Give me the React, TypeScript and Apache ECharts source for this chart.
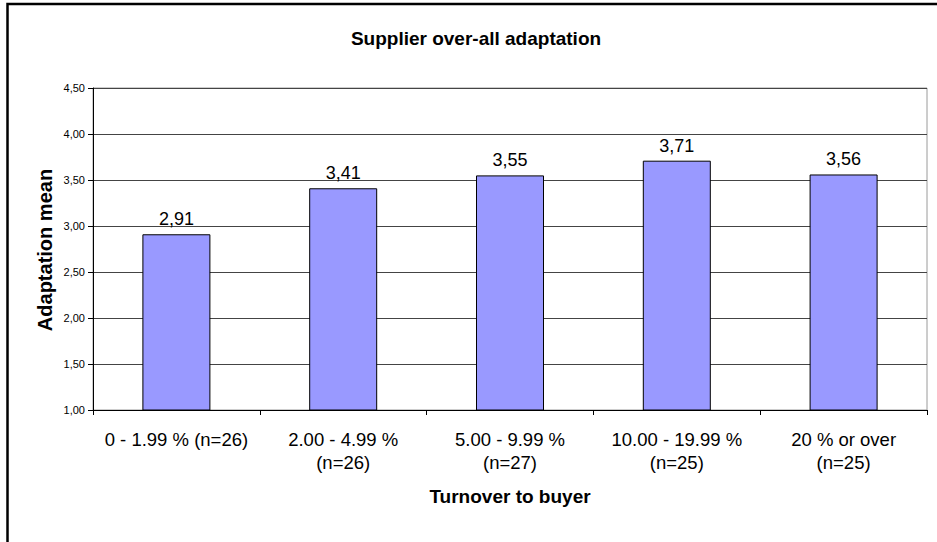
import React, { useEffect, useRef } from "react";
import * as echarts from "echarts";

const categories = [
  "0 - 1.99 % (n=26)",
  "2.00 - 4.99 %\n(n=26)",
  "5.00 - 9.99 %\n(n=27)",
  "10.00 - 19.99 %\n(n=25)",
  "20 % or over\n(n=25)",
];
const adaptationMean = [2.91, 3.41, 3.55, 3.71, 3.56];
const chartTitle = "Supplier over-all adaptation";
const xAxisTitle = "Turnover to buyer";
const yAxisTitle = "Adaptation mean";

const FONT = '"Liberation Sans", Arial, sans-serif';
const comma = (v: number) => v.toFixed(2).replace(".", ",");

export default function App() {
  const ref = useRef<HTMLDivElement>(null);
  useEffect(() => {
    if (!ref.current) return;
    const chart = echarts.init(ref.current, null, { renderer: "svg" });
    chart.setOption({
      animation: false,
      backgroundColor: "#ffffff",
      textStyle: { fontFamily: FONT },
      grid: {
        left: 93,
        right: 10,
        top: 88,
        bottom: 132,
        show: true,
        borderColor: "#9a9a9a",
        borderWidth: 1,
        backgroundColor: "transparent",
      },
      graphic: [
        {
          type: "rect",
          shape: { x: 7.5, y: 4, width: 1200, height: 1200 },
          style: { fill: "none", stroke: "#000", lineWidth: 2.5 },
          silent: true,
        },
        {
          type: "text",
          x: 476,
          y: 38,
          style: {
            text: chartTitle,
            fontFamily: FONT,
            fontSize: 19,
            fontWeight: "bold",
            fill: "#000",
            align: "center",
            verticalAlign: "middle",
          },
        },
        {
          type: "text",
          x: 45,
          y: 250,
          rotation: Math.PI / 2,
          style: {
            text: yAxisTitle,
            fontFamily: FONT,
            fontSize: 20,
            fontWeight: "bold",
            fill: "#000",
            align: "center",
            verticalAlign: "middle",
          },
        },
        {
          type: "text",
          x: 510,
          y: 496,
          style: {
            text: xAxisTitle,
            fontFamily: FONT,
            fontSize: 19,
            fontWeight: "bold",
            fill: "#000",
            align: "center",
            verticalAlign: "middle",
          },
        },
      ],
      xAxis: {
        type: "category",
        data: categories,
        axisLine: { show: true, lineStyle: { color: "#000", width: 1 } },
        axisTick: { show: true, length: 5, alignWithLabel: false, lineStyle: { color: "#000" } },
        axisLabel: {
          interval: 0,
          fontFamily: FONT,
          fontSize: 18.5,
          lineHeight: 23,
          color: "#000",
          margin: 18,
        },
        splitLine: { show: false },
      },
      yAxis: {
        type: "value",
        min: 1,
        max: 4.5,
        interval: 0.5,
        axisLine: { show: true, lineStyle: { color: "#000", width: 1 } },
        axisTick: { show: true, length: 5, lineStyle: { color: "#000" } },
        axisLabel: {
          fontFamily: FONT,
          fontSize: 11,
          color: "#000",
          margin: 8,
          formatter: (v: number) => comma(v),
        },
        splitLine: { show: true, lineStyle: { color: "#444", width: 1 } },
      },
      series: [
        {
          type: "bar",
          data: adaptationMean,
          barWidth: 68,
          itemStyle: { color: "#9999FF", borderColor: "#000", borderWidth: 1 },
          label: {
            show: true,
            position: "top",
            distance: 6,
            fontFamily: FONT,
            fontSize: 18,
            color: "#000",
            formatter: (p: any) => comma(p.value),
          },
        },
      ],
    });
    return () => chart.dispose();
  }, []);
  return (
    <div
      ref={ref}
      style={{ position: "absolute", left: 0, top: 0, width: 937, height: 542, background: "#fff" }}
    />
  );
}
